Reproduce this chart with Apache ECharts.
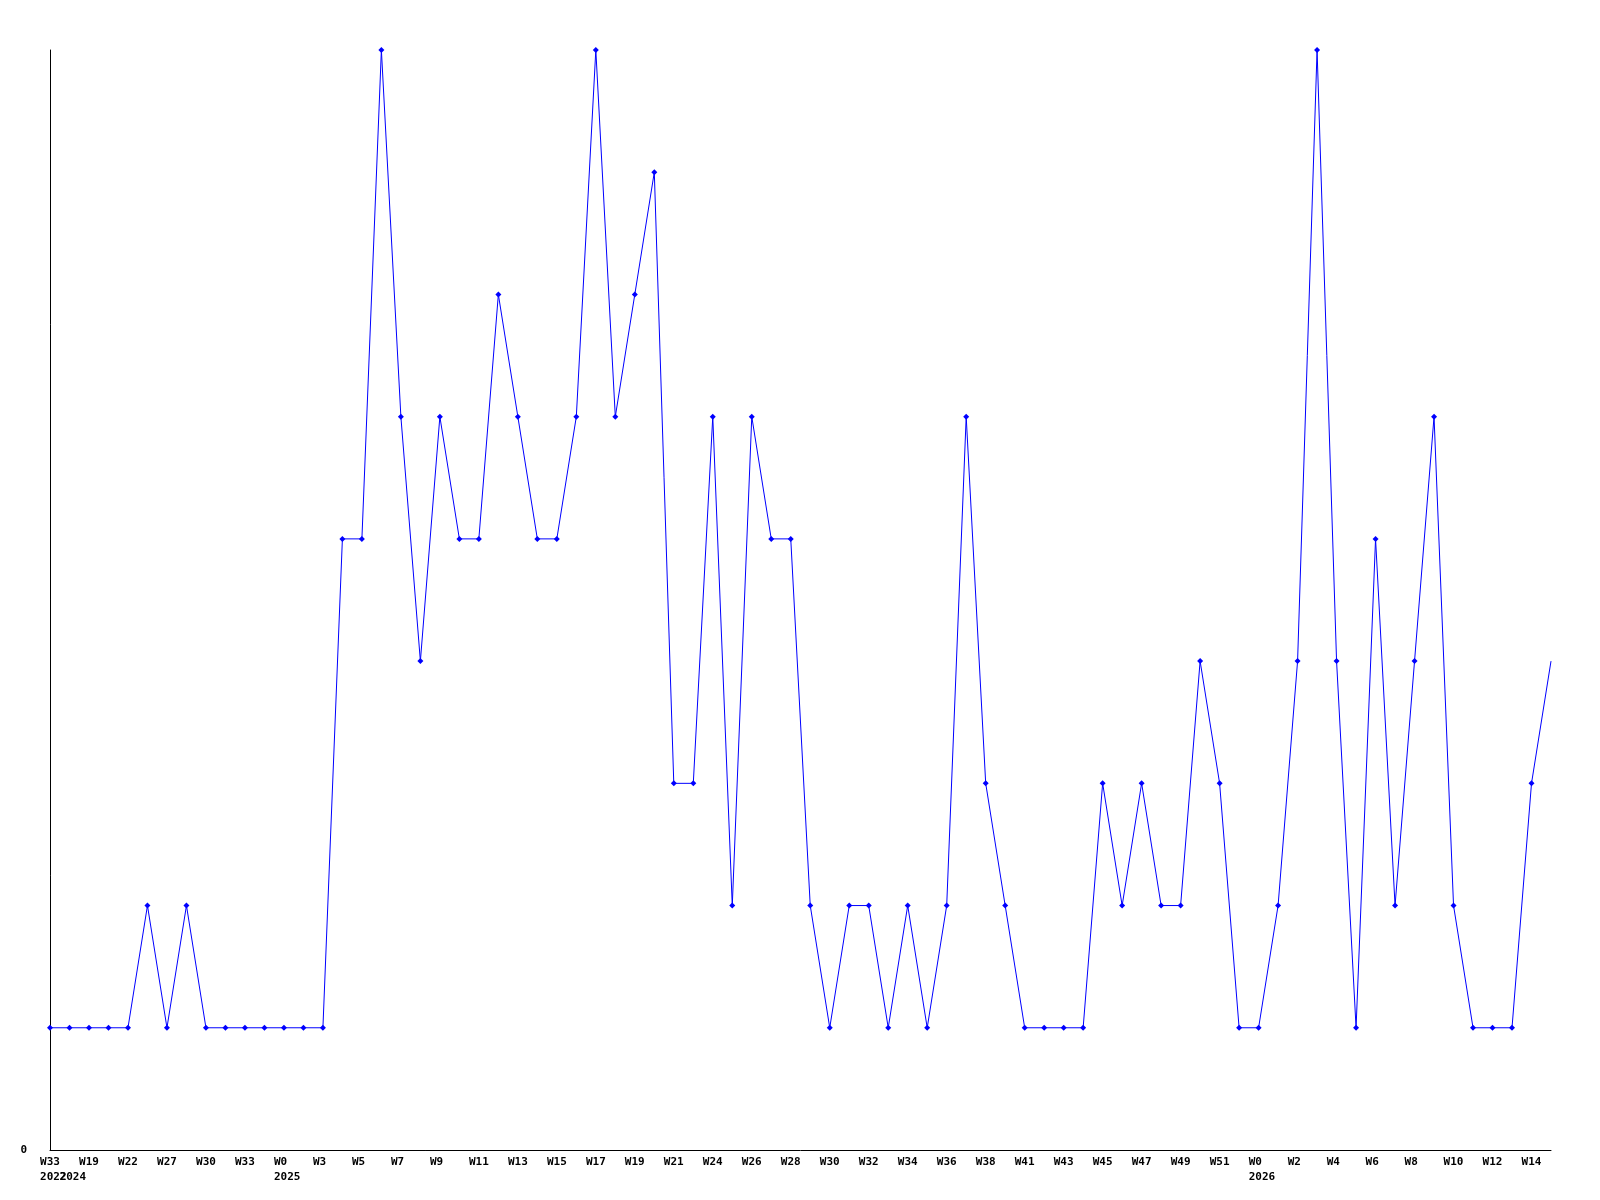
<!DOCTYPE html>
<html>
<head>
<meta charset="utf-8">
<script src="https://cdn.jsdelivr.net/npm/echarts@6/dist/echarts.min.js"></script>
<style>html,body{margin:0;padding:0;background:#fff}#c{width:1600px;height:1200px}</style>
</head>
<body>
<div id="c"></div>
<script>
const weeks = ['W33','W18','W19','W20','W22','W25','W27','W28','W30','W31','W33','W52','W0','W1',
  'W3','W4','W5','W6','W7','W8','W9','W10','W11','W12','W13','W14','W15','W16','W17','W18','W19','W20','W21','W22',
  'W24','W25','W26','W27','W28','W29','W30','W31','W32','W33','W34','W35','W36','W37','W38','W39',
  'W41','W42','W43','W44','W45','W46','W47','W48','W49','W50','W51','W52',
  'W0','W1','W2','W3','W4','W5','W6','W7','W8','W9','W10','W11','W12','W13','W14','W15'];
const values = [1,1,1,1,1,2,1,2,1,1,
  1,1,1,1,1,5,5,9,6,4,
  6,5,5,7,6,5,5,6,9,6,
  7,8,3,3,6,2,6,5,5,2,
  1,2,2,1,2,1,2,6,3,2,
  1,1,1,1,3,2,3,2,2,4,
  3,1,1,2,4,9,4,1,5,2,
  4,6,2,1,1,1,3,4];
const yearIndex = [0, 1, 12, 62];
const yearLabels = ['2022', '2024', '2025', '2026'];
const yTickLabels = ['0'];

const chart = echarts.init(document.getElementById('c'), null, {renderer: 'canvas'});
const font = {fontFamily: 'DejaVu Sans Mono', fontWeight: 'bold', fontSize: 11, color: '#000'};

chart.setOption({
  animation: false,
  backgroundColor: '#fff',
  grid: {left: 50, right: 49, top: 50, bottom: 50, containLabel: false},
  xAxis: {
    type: 'category',
    data: weeks,
    boundaryGap: false,
    axisLine: {show: true, lineStyle: {color: '#000', width: 1}},
    axisTick: {show: false},
    splitLine: {show: false},
    axisLabel: Object.assign({}, font, {
      interval: 0,
      margin: 5,
      lineHeight: 15,
      align: 'center',
      verticalAlign: 'top',
      formatter: function (val, idx) {
        let w = (idx % 2 === 0) ? val : '';
        while (w.length < 3) w += ' ';
        const yi = yearIndex.indexOf(idx);
        if (yi >= 0) return w + '\n ' + yearLabels[yi];
        return (idx % 2 === 0) ? w : '';
      }
    })
  },
  yAxis: {
    type: 'value',
    min: 0,
    max: 9,
    interval: 9,
    axisLine: {show: true, lineStyle: {color: '#000', width: 1}},
    axisTick: {show: false},
    splitLine: {show: false},
    axisLabel: Object.assign({}, font, {
      margin: 23,
      formatter: function (v) { return yTickLabels.indexOf(String(v)) >= 0 ? String(v) : ''; }
    })
  },
  series: [{
    type: 'line',
    data: values.map((v, i) => i === values.length - 1 ? {value: v, symbol: 'none'} : v),
    clip: false,
    symbol: 'diamond',
    symbolSize: 6,
    showAllSymbol: true,
    lineStyle: {color: '#0000ff', width: 1},
    itemStyle: {color: '#0000ff'},
    emphasis: {disabled: true}
  }]
});
</script>
</body>
</html>
